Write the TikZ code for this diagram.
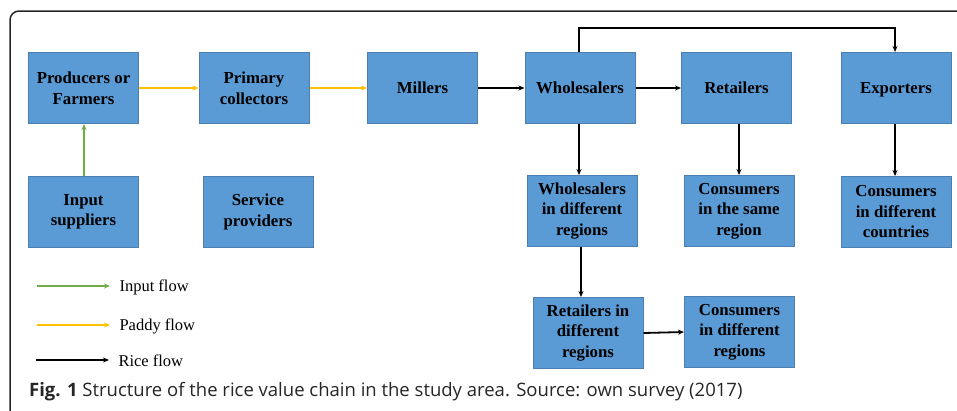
\documentclass[tikz,border=0pt]{standalone}
\usepackage{fontspec}
\setmainfont{Liberation Serif}
\newfontfamily\capfont{Open Sans}
\usetikzlibrary{arrows.meta}
\definecolor{boxfill}{HTML}{5B9BD5}
\definecolor{boxline}{HTML}{4A7FB0}
\definecolor{ingreen}{HTML}{70AD47}
\definecolor{padyel}{HTML}{FFC000}
\tikzset{
  boxnode/.style={draw=boxline, line width=1pt, fill=boxfill, minimum width=110pt, minimum height=71pt,
    align=center, inner sep=2pt, font=\fontsize{16.8}{20.5}\selectfont\bfseries},
  flowarrow/.style={line width=1.8pt, -{Stealth[length=6pt,width=5pt]}},
  riceflow/.style={flowarrow, draw=black},
  paddyflow/.style={flowarrow, draw=padyel, -{Stealth[length=6pt,width=5pt,padyel]}},
  inputflow/.style={flowarrow, line width=2pt, draw=ingreen, -{Stealth[length=6pt,width=5pt,ingreen]}},
  legendtext/.style={anchor=west, font=\fontsize{16.5}{19}\selectfont}
}
\begin{document}
\begin{tikzpicture}[x=1pt,y=-1pt]
\useasboundingbox (0,0) rectangle (957,410);
\clip (0,0) rectangle (957,410);
% frame
\draw[line width=1.5pt, color=black!85, rounded corners=9pt] (10,420) -- (10,11) -- (970,11);
% boxes
\node[boxnode] (prod) at (83.5,88) {Producers or\\Farmers};
\node[boxnode] (prim) at (254,88) {Primary\\collectors};
\node[boxnode] (mill) at (422.5,88) {Millers};
\node[boxnode] (whol) at (580,88) {Wholesalers};
\node[boxnode] (ret) at (736.5,88) {Retailers};
\node[boxnode, text depth=0pt] (exp) at (896,88) {Exporters};
\node[boxnode] (inp) at (83.5,212) {Input\\suppliers};
\node[boxnode] (serv) at (258,212) {Service\\providers};
\node[boxnode] (wdr) at (582,211) {Wholesalers\\in different\\regions};
\node[boxnode] (csr) at (739,211) {Consumers\\in the same\\region};
\node[boxnode] (cdc) at (896,212) {Consumers\\in different\\countries};
\node[boxnode] (rdr) at (588,333) {Retailers in\\different\\regions};
\node[boxnode] (cdr) at (739.5,332) {Consumers\\in different\\regions};
\coordinate (topL) at (579,28);
\coordinate (topR) at (895,28);
\coordinate (wdrx) at (581,0);
\coordinate (inpx) at (84,0);
% connectors
\draw[inputflow] (inp.north -| inpx) -- (prod.south -| inpx);
\draw[paddyflow] (prod) -- (prim);
\draw[paddyflow] (prim) -- (mill);
\draw[riceflow] (mill) -- (whol);
\draw[riceflow] (whol) -- (ret);
\draw[riceflow] (whol.north -| topL) -- (topL) -- (topR) -- (exp.north -| topR);
\draw[riceflow] (whol.south -| topL) -- (wdr.north -| topL);
\draw[riceflow] (ret.south -| csr) -- (csr.north);
\draw[riceflow] (exp.south -| topR) -- (cdc.north -| topR);
\draw[riceflow] (wdr.south -| wdrx) -- (rdr.north -| wdrx);
\draw[riceflow] (rdr.east) -- (cdr.west);
% legend
\coordinate (l1a) at (37,286); \coordinate (l1b) at (110,286);
\coordinate (l2a) at (37,325); \coordinate (l2b) at (110,325);
\coordinate (l3a) at (36,360); \coordinate (l3b) at (109,360);
\draw[inputflow] (l1a) -- (l1b);
\draw[paddyflow] (l2a) -- (l2b);
\draw[riceflow] (l3a) -- (l3b);
\node[legendtext] (t1) at (116,287) {Input flow};
\node[legendtext] (t2) at (116,326) {Paddy flow};
\node[legendtext] (t3) at (115,361) {Rice flow};
% caption
\node[anchor=base west, inner sep=0pt, font=\capfont\fontsize{18.5}{21}\selectfont, color=black!85] (cap) at (29,396)
  {\textbf{Fig. 1} Structure of the rice value chain in the study area. Source: own survey (2017)};
\end{tikzpicture}
\end{document}
